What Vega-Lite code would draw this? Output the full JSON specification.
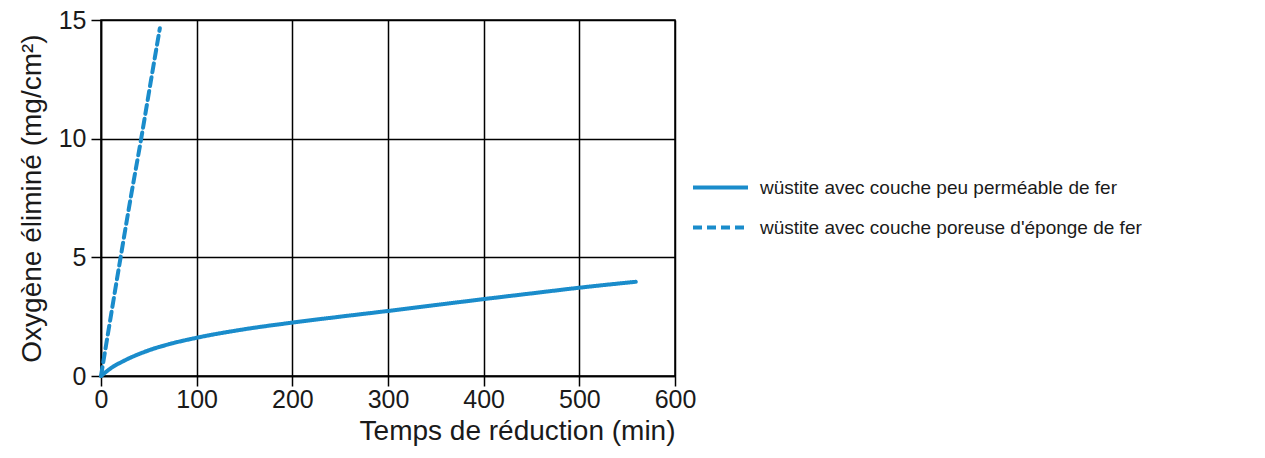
{
  "$schema": "https://vega.github.io/schema/vega-lite/v6.json",
  "autosize": "none",
  "width": 574,
  "height": 356,
  "padding": {"left": 101, "top": 20, "right": 590, "bottom": 82},
  "background": "white",
  "config": {
    "font": "Liberation Sans",
    "view": {"stroke": "black", "strokeWidth": 1.5},
    "axis": {
      "gridColor": "black", "gridWidth": 1.5, "gridOpacity": 1,
      "domainColor": "black", "domainWidth": 1.5,
      "tickColor": "black", "tickWidth": 1.5, "tickSize": 10,
      "labelFont": "Liberation Sans", "labelFontSize": 25, "labelColor": "#1a1a1a",
      "titleFont": "Liberation Sans", "titleFontSize": 28, "titleFontWeight": "normal", "titleColor": "#1a1a1a"
    }
  },
  "data": {
    "values": [
      {"t": 0, "o": 0, "s": "wüstite avec couche peu perméable de fer"},
      {"t": 10, "o": 0.32, "s": "wüstite avec couche peu perméable de fer"},
      {"t": 25, "o": 0.66, "s": "wüstite avec couche peu perméable de fer"},
      {"t": 50, "o": 1.08, "s": "wüstite avec couche peu perméable de fer"},
      {"t": 75, "o": 1.38, "s": "wüstite avec couche peu perméable de fer"},
      {"t": 100, "o": 1.61, "s": "wüstite avec couche peu perméable de fer"},
      {"t": 150, "o": 1.97, "s": "wüstite avec couche peu perméable de fer"},
      {"t": 200, "o": 2.25, "s": "wüstite avec couche peu perméable de fer"},
      {"t": 250, "o": 2.5, "s": "wüstite avec couche peu perméable de fer"},
      {"t": 300, "o": 2.74, "s": "wüstite avec couche peu perméable de fer"},
      {"t": 350, "o": 2.99, "s": "wüstite avec couche peu perméable de fer"},
      {"t": 400, "o": 3.24, "s": "wüstite avec couche peu perméable de fer"},
      {"t": 450, "o": 3.48, "s": "wüstite avec couche peu perméable de fer"},
      {"t": 500, "o": 3.72, "s": "wüstite avec couche peu perméable de fer"},
      {"t": 559, "o": 3.97, "s": "wüstite avec couche peu perméable de fer"},
      {"t": 0, "o": 0, "s": "wüstite avec couche poreuse d'éponge de fer"},
      {"t": 10, "o": 2.45, "s": "wüstite avec couche poreuse d'éponge de fer"},
      {"t": 20.5, "o": 5, "s": "wüstite avec couche poreuse d'éponge de fer"},
      {"t": 31, "o": 7.5, "s": "wüstite avec couche poreuse d'éponge de fer"},
      {"t": 42, "o": 10, "s": "wüstite avec couche poreuse d'éponge de fer"},
      {"t": 52, "o": 12.4, "s": "wüstite avec couche poreuse d'éponge de fer"},
      {"t": 61.5, "o": 14.65, "s": "wüstite avec couche poreuse d'éponge de fer"}
    ]
  },
  "mark": {"type": "line", "color": "#1a8ccb", "strokeWidth": 4, "strokeCap": "round", "interpolate": "monotone", "clip": false},
  "encoding": {
    "x": {
      "field": "t", "type": "quantitative",
      "scale": {"domain": [0, 600], "nice": false},
      "axis": {"values": [0, 100, 200, 300, 400, 500, 600], "title": "Temps de réduction (min)", "titleAnchor": "end", "titleAlign": "right", "labelPadding": 1, "titlePadding": 5, "labelFlush": false}
    },
    "y": {
      "field": "o", "type": "quantitative",
      "scale": {"domain": [0, 15], "nice": false},
      "axis": {"values": [0, 5, 10, 15], "title": "Oxygène éliminé (mg/cm²)", "labelPadding": 5, "titlePadding": 12, "labelFlush": false}
    },
    "strokeDash": {
      "field": "s", "type": "nominal",
      "scale": {
        "domain": ["wüstite avec couche peu perméable de fer", "wüstite avec couche poreuse d'éponge de fer"],
        "range": [[1, 0], [9, 5]]
      },
      "legend": {
        "title": null, "orient": "none", "legendX": 590, "legendY": 138,
        "symbolType": "stroke", "symbolSize": 3025, "symbolStrokeWidth": 4,
        "symbolStrokeColor": "#1a8ccb",
        "labelFont": "Liberation Sans", "labelFontSize": 19, "labelColor": "#1a1a1a",
        "labelLimit": 600, "rowPadding": -15, "labelOffset": 10
      }
    },
    "order": {"field": "t", "type": "quantitative"}
  }
}
